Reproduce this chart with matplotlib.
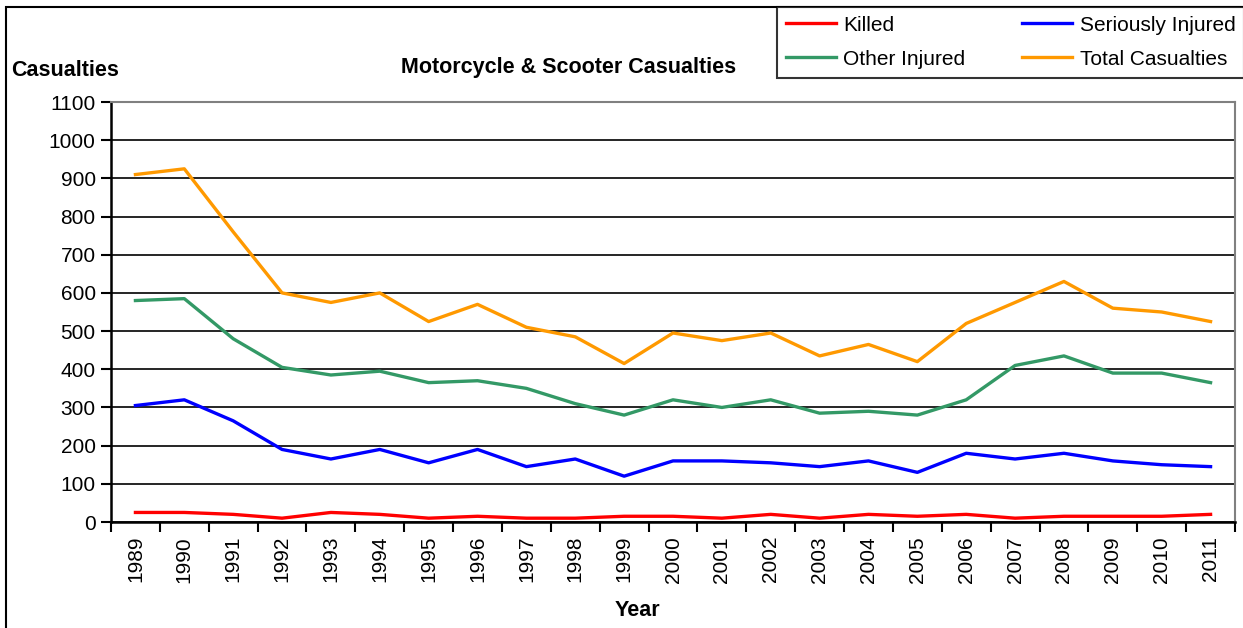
import matplotlib.pyplot as plt
from matplotlib.patches import Rectangle
from matplotlib.ticker import FixedLocator, NullFormatter

plt.rcParams['font.family'] = ['Liberation Sans', 'DejaVu Sans']

years = [str(y) for y in range(1989, 2012)]
killed = [25, 25, 20, 10, 25, 20, 10, 15, 10, 10, 15, 15, 10, 20, 10, 20, 15, 20, 10, 15, 15, 15, 20]
seriously_injured = [305, 320, 265, 190, 165, 190, 155, 190, 145, 165, 120, 160, 160, 155, 145, 160, 130,
                     180, 165, 180, 160, 150, 145]
other_injured = [580, 585, 480, 405, 385, 395, 365, 370, 350, 310, 280, 320, 300, 320, 285, 290, 280,
                 320, 410, 435, 390, 390, 365]
total_casualties = [910, 925, 760, 600, 575, 600, 525, 570, 510, 485, 415, 495, 475, 495, 435, 465, 420,
                    520, 575, 630, 560, 550, 525]

series = [
    ('Killed', killed, '#FF0000'),
    ('Seriously Injured', seriously_injured, '#0000FF'),
    ('Other Injured', other_injured, '#339966'),
    ('Total Casualties', total_casualties, '#FF9900'),
]

fig = plt.figure(figsize=(12.43, 6.28), dpi=100)
ax = fig.add_axes([111 / 1243, 1 - 522 / 628, (1235 - 111) / 1243, (522 - 102) / 628])

# outer chart border
fig.patches.append(Rectangle((6 / 1243, -0.01), 1.2, 1 - 7 / 628 + 0.01, transform=fig.transFigure,
                             fill=False, edgecolor='black', linewidth=1.5, zorder=0))

x = list(range(len(years)))
handles = {}
for name, vals, col in series:
    handles[name], = ax.plot(x, vals, color=col, linewidth=2.4, label=name, zorder=3)

ax.set_xlim(-0.5, len(years) - 0.5)
ax.set_ylim(0, 1100)
ax.set_yticks(range(0, 1101, 100))
ax.yaxis.grid(True, color='black', linewidth=1.2)
ax.set_axisbelow(True)

# ticks sit between the categories, labels in the middle
ax.xaxis.set_major_locator(FixedLocator([i - 0.5 for i in range(len(years) + 1)]))
ax.xaxis.set_major_formatter(NullFormatter())
ax.xaxis.set_minor_locator(FixedLocator(x))
ax.set_xticklabels(years, minor=True, rotation=90, fontsize=15)
ax.tick_params(axis='x', which='minor', length=0, pad=10)
ax.tick_params(axis='x', which='major', length=7, width=1.5, direction='out')
ax.tick_params(axis='y', length=7, width=1.5, labelsize=15, pad=4)

ax.spines['left'].set_linewidth(1.8)
ax.spines['bottom'].set_linewidth(1.8)
for side in ['top', 'right']:
    ax.spines[side].set_color('#808080')
    ax.spines[side].set_linewidth(1.5)

fig.text(11 / 1243, 1 - 71 / 628, 'Casualties', fontsize=15.5, fontweight='bold', ha='left', va='center')
fig.text(569 / 1243, 1 - 68 / 628, 'Motorcycle & Scooter Casualties', fontsize=15.5, fontweight='bold',
         ha='center', va='center')
fig.text(637 / 1243, 1 - 610 / 628, 'Year', fontsize=15.5, fontweight='bold', ha='center', va='center')

# legend fills column by column
order = ['Killed', 'Other Injured', 'Seriously Injured', 'Total Casualties']
leg = fig.legend([handles[n] for n in order], order, ncol=2, loc='upper left',
                 bbox_to_anchor=(777 / 1243, 1 - 7 / 628), fontsize=15, frameon=True, fancybox=False,
                 edgecolor='black', handlelength=2.4, handletextpad=0.35, columnspacing=2.75,
                 labelspacing=0.72, borderpad=0.42, borderaxespad=0)
leg.get_frame().set_linewidth(1.5)

fig.savefig('out.png', dpi=100)
